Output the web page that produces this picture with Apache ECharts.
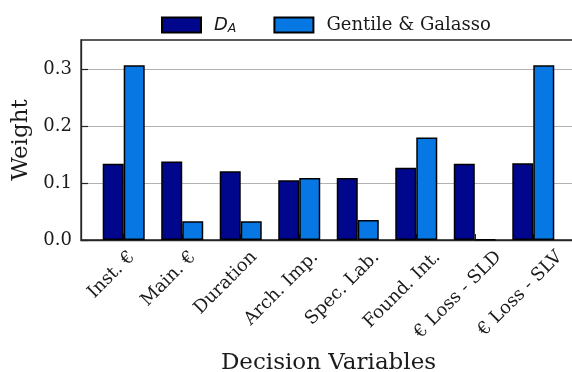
<!DOCTYPE html>
<html>
<head>
<meta charset="utf-8">
<script src="https://cdn.jsdelivr.net/npm/echarts@6/dist/echarts.min.js"></script>
<style>
  html, body { margin: 0; padding: 0; background: #fff; }
  #chart { width: 572px; height: 372px; }
</style>
</head>
<body>
<div id="chart"></div>
<script>
// Decision variables and their weights under the two weighting schemes
const categories = ['Inst. €', 'Main. €', 'Duration', 'Arch. Imp.', 'Spec. Lab.', 'Found. Int.', '€ Loss - SLD', '€ Loss - SLV'];
const weightsDA = [0.134, 0.138, 0.121, 0.105, 0.109, 0.127, 0.134, 0.135];
const weightsGG = [0.307, 0.033, 0.033, 0.109, 0.035, 0.180, 0.001, 0.307];
const yTicks = [0, 0.1, 0.2, 0.3];
const seriesNames = ['DA', 'Gentile & Galasso'];

const serif = 'DejaVu Serif';
const ink = '#1a1a1a';
const positions = categories.map((_, i) => i);
// rotated labels sit slightly right of each bar pair, spreading a little toward the right
const labelPositions = positions.map(i => i + 0.034 + 0.044 * i);

const toPairs = vals => vals.map((v, i) => [i, v]);

const chart = echarts.init(document.getElementById('chart'), null, { renderer: 'canvas' });

chart.setOption({
  animation: false,
  backgroundColor: '#fff',
  textStyle: { fontFamily: serif },
  legend: {
    left: 161,
    top: 16,
    padding: 0,
    itemWidth: 39,
    itemHeight: 15,
    itemGap: 37,
    icon: 'rect',
    textStyle: {
      fontFamily: serif,
      fontSize: 18,
      color: ink,
      padding: [0, 0, 0, 8],
      rich: {
        i: { fontFamily: 'DejaVu Sans', fontStyle: 'italic', fontSize: 18, color: ink },
        s: { fontFamily: 'DejaVu Sans', fontStyle: 'italic', fontSize: 12.5, color: ink, padding: [8, 0, 0, 0] }
      }
    },
    formatter: name => name === 'DA' ? '{i|D}{s|A}' : name,
    data: seriesNames
  },
  grid: {
    left: 81,
    right: -4,
    top: 40,
    bottom: 132,
    outerBoundsMode: 'none',
    containLabel: false,
    show: true,
    borderColor: '#262626',
    borderWidth: 1.3,
    backgroundColor: 'transparent'
  },
  xAxis: {
    type: 'value',
    min: -0.73,
    max: 7.73,
    name: 'Decision Variables',
    nameLocation: 'middle',
    nameGap: 112,
    nameTextStyle: { fontFamily: serif, fontSize: 23, color: ink },
    axisLine: { show: true, onZero: false, lineStyle: { color: '#262626', width: 1.3 } },
    axisTick: { show: true, inside: true, length: 6, customValues: positions, lineStyle: { color: '#262626' } },
    axisLabel: {
      customValues: labelPositions,
      rotate: 45,
      margin: 8,
      verticalAlign: 'top',
      fontFamily: serif,
      fontSize: 18,
      color: ink,
      formatter: v => categories[Math.round(v)]
    },
    splitLine: { show: false }
  },
  yAxis: {
    type: 'value',
    min: 0,
    max: 0.3515,
    interval: 0.1,
    name: 'Weight',
    nameLocation: 'middle',
    nameRotate: 90,
    nameGap: 45,
    nameTextStyle: { fontFamily: serif, fontSize: 23, color: ink },
    axisLine: { show: true, onZero: false, lineStyle: { color: '#262626', width: 1.3 } },
    axisTick: { show: true, inside: true, length: 7, customValues: yTicks, lineStyle: { color: '#262626', width: 1.2 } },
    axisLabel: {
      customValues: yTicks,
      margin: 9,
      fontFamily: serif,
      fontSize: 18,
      color: ink,
      formatter: v => v.toFixed(1)
    },
    splitLine: { show: true, lineStyle: { color: '#b3b3b3', width: 1.2 } }
  },
  series: [
    {
      name: seriesNames[0],
      type: 'bar',
      data: toPairs(weightsDA),
      barWidth: 21,
      barGap: '0%',
      itemStyle: { color: '#00078c', borderColor: '#000', borderWidth: 1.5 }
    },
    {
      name: seriesNames[1],
      type: 'bar',
      data: toPairs(weightsGG),
      barWidth: 21,
      barGap: '0%',
      itemStyle: { color: '#0778e3', borderColor: '#000', borderWidth: 1.5 }
    }
  ]
});
</script>
</body>
</html>
